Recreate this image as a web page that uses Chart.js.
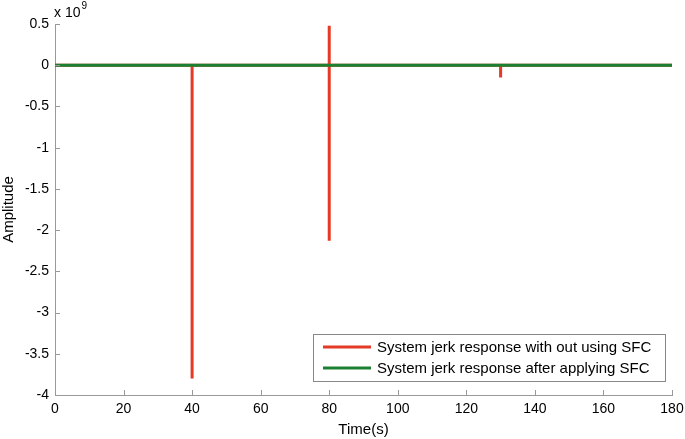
<!DOCTYPE html>
<html>
<head>
<meta charset="utf-8">
<script src="https://cdn.jsdelivr.net/npm/chart.js@4.4.0/dist/chart.umd.min.js"></script>
<style>
  html, body { margin: 0; padding: 0; background: #fff; }
  #wrap { width: 685px; height: 439px; }
</style>
</head>
<body>
<div id="wrap"><canvas id="myChart"></canvas></div>
<script>
// values in units of 10^9
var redTimes  = [0, 40, 40, 40, 80, 80, 80, 80, 130, 130, 130, 180];
var redValues = [0, 0, -3.8, 0, 0, 0.48, -2.13, 0, 0, -0.15, 0, 0];
var greenTimes  = [0, 180];
var greenValues = [0, 0];
var xTicks = [0, 20, 40, 60, 80, 100, 120, 140, 160, 180];
var yTicks = [0.5, 0, -0.5, -1, -1.5, -2, -2.5, -3, -3.5, -4];
var labels = ['System jerk response with out using SFC', 'System jerk response after applying SFC'];

function pairs(xs, ys) {
  return xs.map(function (x, i) { return { x: x, y: ys[i] }; });
}

var FONT = '"Liberation Sans", Arial, sans-serif';

// inward tick marks, exponent label and the boxed legend inside the plot
var extras = {
  id: 'extras',
  afterDraw: function (chart) {
    var ctx = chart.ctx;
    var xs = chart.scales.x, ys = chart.scales.y;
    var a = chart.chartArea;
    ctx.save();
    ctx.strokeStyle = '#999';
    ctx.lineWidth = 1;
    xTicks.forEach(function (v) {
      var px = Math.round(xs.getPixelForValue(v)) + 0.5;
      ctx.beginPath(); ctx.moveTo(px, a.bottom); ctx.lineTo(px, a.bottom - 5); ctx.stroke();
    });
    yTicks.forEach(function (v) {
      var py = Math.round(ys.getPixelForValue(v)) + 0.5;
      ctx.beginPath(); ctx.moveTo(a.left, py); ctx.lineTo(a.left + 5, py); ctx.stroke();
    });

    ctx.fillStyle = '#000';
    ctx.textBaseline = 'alphabetic';
    ctx.textAlign = 'left';
    ctx.font = '14px ' + FONT;
    ctx.fillText('x 10', a.left - 1, 17);
    var w = ctx.measureText('x 10').width;
    ctx.font = '10px ' + FONT;
    ctx.fillText('9', a.left + w, 9);

    // legend
    var bx = 313, by = 334, bw = 352, bh = 47;
    ctx.fillStyle = '#fff';
    ctx.fillRect(bx, by, bw, bh);
    ctx.strokeStyle = '#888';
    ctx.lineWidth = 1;
    ctx.strokeRect(bx + 0.5, by + 0.5, bw, bh);
    ctx.font = '15px ' + FONT;
    ctx.textBaseline = 'middle';
    chart.data.datasets.forEach(function (ds) {
      var ly = by + 13 + ds.legendRow * 21;
      ctx.strokeStyle = ds.borderColor;
      ctx.lineWidth = 3;
      ctx.beginPath(); ctx.moveTo(bx + 10, ly); ctx.lineTo(bx + 58, ly); ctx.stroke();
      ctx.fillStyle = '#000';
      ctx.fillText(ds.label, bx + 64, ly + 1);
    });
    ctx.restore();
  }
};

var ctx = document.getElementById('myChart');
var myChart = new Chart(ctx, {
  type: 'line',
  data: {
    datasets: [
      {
        label: labels[0],
        legendRow: 0,
        data: pairs(redTimes, redValues),
        borderColor: 'rgb(228,58,38)',
        borderWidth: 3,
        pointRadius: 0,
        fill: false,
        tension: 0,
        order: 2
      },
      {
        label: labels[1],
        legendRow: 1,
        data: pairs(greenTimes, greenValues),
        borderColor: 'rgb(28,128,50)',
        borderWidth: 3,
        pointRadius: 0,
        fill: false,
        tension: 0,
        order: 1
      }
    ]
  },
  options: {
    responsive: true,
    maintainAspectRatio: false,
    animation: false,
    layout: { padding: { top: 24, right: 13, left: 0, bottom: 0 } },
    plugins: { legend: { display: false }, tooltip: { enabled: false } },
    scales: {
      x: {
        type: 'linear',
        min: 0, max: 180,
        afterBuildTicks: function (s) { s.ticks = xTicks.map(function (v) { return { value: v }; }); },
        afterFit: function (s) { s.height = 44; s.paddingLeft = 0; s.paddingRight = 0; },
        grid: { drawOnChartArea: false, drawTicks: false },
        border: { color: '#999', width: 1 },
        ticks: { color: '#000', font: { family: FONT, size: 14 }, padding: 6, maxRotation: 0 },
        title: { display: true, text: 'Time(s)', color: '#000', font: { family: FONT, size: 15 }, padding: { top: 2, bottom: 0 } }
      },
      y: {
        type: 'linear',
        min: -4, max: 0.5,
        afterBuildTicks: function (s) { s.ticks = yTicks.map(function (v) { return { value: v }; }); },
        afterFit: function (s) { s.width = 55; s.paddingTop = 0; s.paddingBottom = 0; },
        grid: { drawOnChartArea: false, drawTicks: false },
        border: { color: '#999', width: 1 },
        ticks: { color: '#000', font: { family: FONT, size: 14 }, padding: 6,
                 callback: function (v) { return String(v); } },
        title: { display: true, text: 'Amplitude', color: '#000', font: { family: FONT, size: 15 }, padding: { top: 0, bottom: 2 } }
      }
    }
  },
  plugins: [extras]
});
</script>
</body>
</html>
